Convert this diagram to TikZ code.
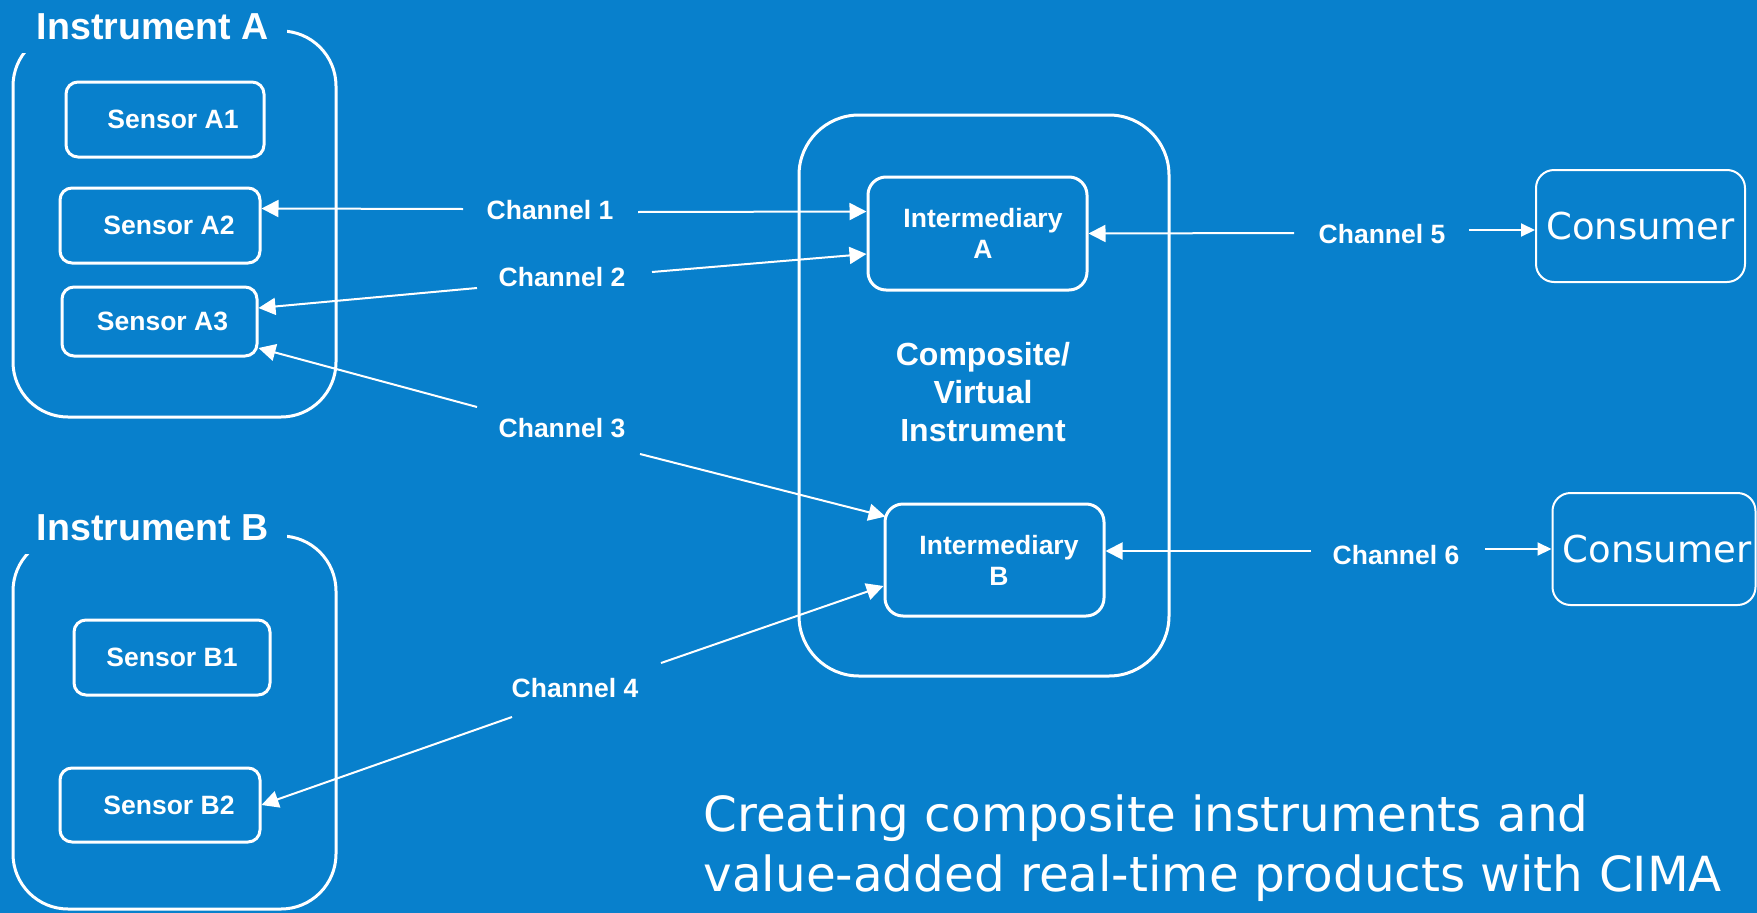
\documentclass[tikz,border=0pt]{standalone}
\usepackage{fontspec}
\setmainfont{Liberation Sans}
\newfontfamily\plainfont{DejaVu Sans}
\usetikzlibrary{arrows.meta,calc}
\definecolor{bgblue}{RGB}{8,128,204}

\begin{document}
\begin{tikzpicture}[x=1pt,y=-1pt,
  every node/.style={text=white},
  frame/.style={draw=white, line width=3pt, rounded corners=55pt, inner sep=0pt},
  framelabel/.style={fill=bgblue, inner sep=0pt, anchor=north west,
    minimum width=269pt, minimum height=53pt,
    font=\bfseries\fontsize{37.6pt}{40pt}\selectfont},
  sensor/.style={draw=white, line width=3pt, rounded corners=12pt, inner sep=0pt,
    font=\bfseries\fontsize{26.5pt}{31pt}\selectfont},
  interbox/.style={draw=white, line width=3pt, rounded corners=18pt, inner sep=0pt,
    align=center, font=\bfseries\fontsize{26.5pt}{31pt}\selectfont},
  compbox/.style={draw=white, line width=3pt, rounded corners=60pt, inner sep=0pt},
  consumer/.style={draw=white, line width=2pt, rounded corners=18pt, inner sep=0pt,
    font=\plainfont\fontsize{37pt}{40pt}\selectfont},
  chan/.style={inner sep=0pt, font=\bfseries\fontsize{26.5pt}{30pt}\selectfont},
  link/.style={draw=white, line width=2pt},
  tip/.style={link, -{Triangle[length=17pt,width=17pt]}},
  smalltip/.style={link, -{Triangle[length=14pt,width=13pt]}}
]
% background
\fill[bgblue] (0,0) rectangle (1757,913);
\useasboundingbox (0,0) rectangle (1757,913);

% instrument frames
\node[frame, minimum width=323pt, minimum height=386pt] (frA) at (174.5,224) {};
\node[frame, minimum width=323pt, minimum height=373pt] (frB) at (174.5,722.5) {};
\node[framelabel] (labA) at (18,0) {Instrument A};
\node[framelabel] (labB) at (18,501) {Instrument B};

% sensors
\node[sensor, minimum width=198pt, minimum height=75pt] (sA1) at (165,119.5) {\hspace*{16pt}Sensor A1};
\node[sensor, minimum width=200pt, minimum height=75pt] (sA2) at (160,225.5) {\hspace*{18pt}Sensor A2};
\node[sensor, minimum width=195pt, minimum height=69pt] (sA3) at (159.5,321.5) {\hspace*{6pt}Sensor A3};
\node[sensor, minimum width=196pt, minimum height=75pt] (sB1) at (172,657.5) {Sensor B1};
\node[sensor, minimum width=200pt, minimum height=74pt] (sB2) at (160,805) {\hspace*{18pt}Sensor B2};

% composite instrument
\node[compbox, minimum width=370pt, minimum height=561pt] (comp) at (984,395.5) {};
\node[align=center, font=\bfseries\fontsize{32pt}{38pt}\selectfont] (compt) at (983,392)
  {Composite/\\Virtual\\Instrument};
\node[interbox, minimum width=219pt, minimum height=113pt] (iA) at (977.5,233.5)
  {\hspace*{11pt}Intermediary\\\hspace*{11pt}A};
\node[interbox, minimum width=219pt, minimum height=112pt] (iB) at (994.5,560)
  {\hspace*{9pt}Intermediary\\\hspace*{9pt}B};

% consumers
\node[consumer, minimum width=209pt, minimum height=112pt] (c1) at (1640.5,226) {Consumer};
\node[consumer, minimum width=203pt, minimum height=112pt] (c2) at (1654,549) {\hspace*{6pt}Consumer};

% channel labels
\node[chan] (ch1) at (550,210) {Channel 1};
\node[chan] (ch2) at (562,277) {Channel 2};
\node[chan] (ch3) at (562,428) {Channel 3};
\node[chan] (ch4) at (575,688) {Channel 4};
\node[chan] (ch5) at (1382,234) {Channel 5};
\node[chan] (ch6) at (1396,555) {Channel 6};

% channel connectors
\draw[tip] ($(ch1)+(-87,-1)$) -- ($(sA2.east)+(0,-17)$);
\draw[tip] ($(ch1)+(88,2)$) -- ($(iA.west)+(0,-22)$);
\draw[tip] ($(ch2)+(-85,11)$) -- ($(sA3.east)+(0,-13.5)$);
\draw[tip] ($(ch2)+(90,-5)$) -- ($(iA.west)+(0,20.5)$);
\draw[tip] ($(ch3)+(-85,-21)$) -- ($(sA3.east)+(0,26.5)$);
\draw[tip] ($(ch3)+(78,26)$) -- ($(iB.north west)+(2,14)$);
\draw[tip] ($(ch4)+(-63,29)$) -- (sB2.east);
\draw[tip] ($(ch4)+(86,-25)$) -- ($(iB.west)+(0,26)$);
\draw[tip] ($(ch5)+(-88,-1)$) -- (iA.east);
\draw[smalltip] ($(ch5)+(87,-4)$) -- ($(c1.west)+(0,4)$);
\draw[tip] ($(ch6)+(-85,-4)$) -- ($(iB.east)+(0,-9)$);
\draw[smalltip] ($(ch6)+(89,-6)$) -- (c2.west);

% caption
\node[anchor=west, align=left, font=\plainfont\fontsize{48.4pt}{60pt}\selectfont] (cap) at (700,848)
  {Creating composite instruments and\\value-added real-time products with CIMA};
\end{tikzpicture}
\end{document}
